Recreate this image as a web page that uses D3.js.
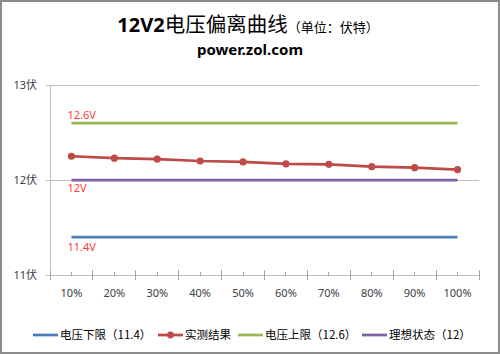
<!DOCTYPE html>
<html>
<head>
<meta charset="utf-8">
<script src="https://cdn.jsdelivr.net/npm/d3@7/dist/d3.min.js"></script>
<style>
  body { margin: 0; background: #fff; }
  svg { display: block; font-family: "Noto Sans", "Noto Sans CJK SC", sans-serif; }
</style>
</head>
<body>
<div id="chart"></div>
<script>
"use strict";

const categories = ["10%", "20%", "30%", "40%", "50%", "60%", "70%", "80%", "90%", "100%"];
const measured = [12.25, 12.23, 12.22, 12.20, 12.19, 12.17, 12.165, 12.14, 12.13, 12.11];
const lowerLimit = 11.4;
const upperLimit = 12.6;
const ideal = 12;
const yTicks = [11, 12, 13];
const yTickLabels = ["11伏", "12伏", "13伏"];

const series = [
    { name: "电压下限（11.4）", color: "#4a7ebb", values: categories.map(() => lowerLimit), dots: false },
    { name: "实测结果", color: "#be4b48", values: measured, dots: true },
    { name: "电压上限（12.6）", color: "#98b954", values: categories.map(() => upperLimit), dots: false },
    { name: "理想状态（12）", color: "#7d60a0", values: categories.map(() => ideal), dots: false }
];

const refLabels = [
    { text: "12.6V", value: upperLimit, dy: -4 },
    { text: "12V", value: ideal, dy: 12 },
    { text: "11.4V", value: lowerLimit, dy: 14 }
];

const width = 500;
const height = 354;
const margin = { top: 85, right: 21, bottom: 79, left: 50 };

const svg = d3.select("#chart").append("svg")
    .attr("width", width)
    .attr("height", height);

// outer border
svg.append("rect")
    .attr("x", 1).attr("y", 1)
    .attr("width", width - 2).attr("height", height - 2)
    .attr("fill", "#fff")
    .attr("stroke", "#8c8c8c")
    .attr("stroke-width", 2);

// title
let title = svg.append("text")
    .attr("x", 248)
    .attr("y", 32)
    .attr("text-anchor", "middle")
    .attr("fill", "#000");
title.append("tspan")
    .style("font-size", "20px")
    .style("font-weight", "bold")
    .text("12V2");
title.append("tspan")
    .style("font-size", "20.5px")
    .style("font-family", "'Noto Sans CJK SC'")
    .text("电压偏离曲线");
title.append("tspan")
    .style("font-size", "13px")
    .style("font-family", "'Noto Sans CJK SC'")
    .text("（单位：伏特）");

svg.append("text")
    .attr("x", 250)
    .attr("y", 55)
    .attr("text-anchor", "middle")
    .style("font-size", "15px")
    .style("font-weight", "bold")
    .text("power.zol.com");

let plotW = width - margin.left - margin.right;
let plotH = height - margin.top - margin.bottom;

let g = svg.append("g")
    .attr("transform", `translate(${margin.left},${margin.top})`);

let x = d3.scaleBand()
    .domain(categories)
    .range([0, plotW]);

let y = d3.scaleLinear()
    .domain([11, 13])
    .range([plotH, 0]);

// gridlines
g.selectAll(".grid")
    .data(yTicks)
    .enter()
    .append("line")
    .attr("x1", -4)
    .attr("x2", plotW)
    .attr("y1", d => y(d))
    .attr("y2", d => y(d))
    .attr("stroke", "#bfbfbf")
    .attr("stroke-width", 1)
    .attr("shape-rendering", "crispEdges");

// y axis
g.append("line")
    .attr("x1", 0).attr("x2", 0)
    .attr("y1", 0).attr("y2", plotH)
    .attr("stroke", "#bfbfbf")
    .attr("shape-rendering", "crispEdges");

g.selectAll(".ylabel")
    .data(yTicks)
    .enter()
    .append("text")
    .attr("x", -13)
    .attr("y", d => y(d))
    .attr("dy", "0.35em")
    .attr("text-anchor", "end")
    .style("font-size", "11px")
    .attr("fill", "#404040")
    .text((d, i) => yTickLabels[i]);

// x axis ticks: major between categories, minor at centers
let bounds = categories.map(c => x(c)).concat([plotW]);
g.selectAll(".major")
    .data(bounds)
    .enter()
    .append("line")
    .attr("x1", d => d).attr("x2", d => d)
    .attr("y1", plotH - 5).attr("y2", plotH + 5)
    .attr("stroke", "#a6a6a6")
    .attr("shape-rendering", "crispEdges");

g.selectAll(".minor")
    .data(categories)
    .enter()
    .append("line")
    .attr("x1", d => x(d) + x.bandwidth() / 2)
    .attr("x2", d => x(d) + x.bandwidth() / 2)
    .attr("y1", plotH - 3).attr("y2", plotH + 1)
    .attr("stroke", "#a6a6a6")
    .attr("shape-rendering", "crispEdges");

g.selectAll(".xlabel")
    .data(categories)
    .enter()
    .append("text")
    .attr("x", d => x(d) + x.bandwidth() / 2)
    .attr("y", plotH + 22)
    .attr("text-anchor", "middle")
    .style("font-size", "11px")
    .attr("fill", "#404040")
    .text(d => d);

// lines
let line = d3.line()
    .x((d, i) => x(categories[i]) + x.bandwidth() / 2)
    .y(d => y(d));

g.selectAll(".series")
    .data(series)
    .enter()
    .append("path")
    .attr("d", d => line(d.values))
    .attr("fill", "none")
    .attr("stroke", d => d.color)
    .attr("stroke-width", 2.75)
    .attr("stroke-linejoin", "round");

let dotSeries = series.filter(s => s.dots);
dotSeries.forEach(s => {
    g.selectAll(null)
        .data(s.values)
        .enter()
        .append("circle")
        .attr("cx", (d, i) => x(categories[i]) + x.bandwidth() / 2)
        .attr("cy", d => y(d))
        .attr("r", 3.6)
        .attr("fill", s.color);
});

// reference labels
g.selectAll(".ref")
    .data(refLabels)
    .enter()
    .append("text")
    .attr("x", x(categories[0]) + x.bandwidth() / 2 - 4)
    .attr("y", d => y(d.value) + d.dy)
    .style("font-size", "11px")
    .attr("fill", "#ff3b3b")
    .text(d => d.text);

// legend
let legendX = [33, 158, 238, 362];
let legend = svg.selectAll(".legend")
    .data(series)
    .enter()
    .append("g")
    .attr("transform", (d, i) => `translate(${legendX[i]},335)`);

legend.append("line")
    .attr("x1", 0).attr("x2", 25)
    .attr("y1", 0).attr("y2", 0)
    .attr("stroke", d => d.color)
    .attr("stroke-width", 2.75);

legend.filter(d => d.dots)
    .append("circle")
    .attr("cx", 12.5).attr("cy", 0)
    .attr("r", 3.4)
    .attr("fill", d => d.color);

legend.append("text")
    .attr("x", 27)
    .attr("y", 0)
    .attr("dy", "0.36em")
    .style("font-size", "11.5px")
    .style("font-family", "'Noto Sans CJK SC'")
    .attr("fill", "#000")
    .text(d => d.name);
</script>
</body>
</html>
